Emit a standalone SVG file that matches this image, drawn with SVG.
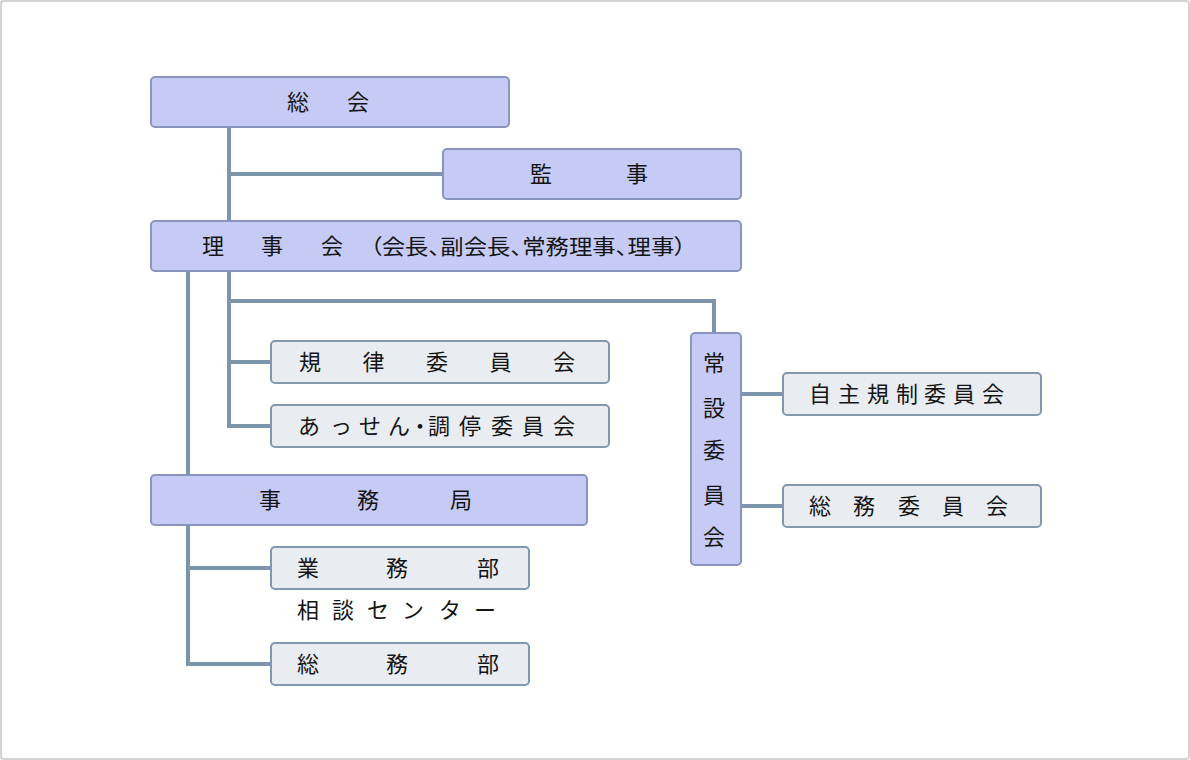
<svg xmlns="http://www.w3.org/2000/svg" width="1190" height="760" viewBox="0 0 1190 760">
<style>
.bg{fill:#ffffff;stroke:#d3d3d3;stroke-width:2}
.main{fill:#c5cbf5;stroke:#8a95bf;stroke-width:2}
.sub{fill:#e9edf2;stroke:#8298ad;stroke-width:2}
.t{font-family:"Noto Sans CJK JP","Noto Sans",sans-serif;font-size:22px;fill:#151515}
.p{font-feature-settings:"palt";font-size:21px}
.c{fill:none;stroke:#7b95aa;stroke-width:4}
</style>
<rect class="bg" x="1" y="1" width="1188" height="758" rx="3"/>
<g id="connectors">
<polyline class="c" points="229,127 229,221"/>
<polyline class="c" points="229,174 443,174"/>
<polyline class="c" points="229,271 229,426 271,426"/>
<polyline class="c" points="229,362 271,362"/>
<polyline class="c" points="229,301 714,301 714,333"/>
<polyline class="c" points="188,271 188,475"/>
<polyline class="c" points="188,525 188,664 271,664"/>
<polyline class="c" points="188,568 271,568"/>
<polyline class="c" points="741,394 783,394"/>
<polyline class="c" points="741,506 783,506"/>
</g>
<g id="soukai">
<rect class="main" x="151" y="77" width="358" height="50" rx="4"/>
<text class="t" text-anchor="middle" x="298 358" y="110">総会</text>
</g>
<g id="kanji">
<rect class="main" x="443" y="149" width="298" height="50" rx="4"/>
<text class="t" text-anchor="middle" x="541 637" y="182">監事</text>
</g>
<g id="rijikai">
<rect class="main" x="151" y="221" width="590" height="50" rx="4"/>
<text class="t" text-anchor="middle" x="213 272 332" y="254">理事会</text>
<text class="t p" x="370" y="254" textLength="316" lengthAdjust="spacingAndGlyphs">（会長、副会長、常務理事、理事）</text>
</g>
<g id="kiritsu">
<rect class="sub" x="271" y="341" width="338" height="42" rx="4"/>
<text class="t" text-anchor="middle" x="310 373.5 437 500.5 564" y="370">規律委員会</text>
</g>
<g id="assen">
<rect class="sub" x="271" y="405" width="338" height="42" rx="4"/>
<text class="t" text-anchor="middle" x="309 341 370 399 420 439 470 502 533 564" y="434">あっせん・調停委員会</text>
</g>
<g id="jimukyoku">
<rect class="main" x="151" y="475" width="436" height="50" rx="4"/>
<text class="t" text-anchor="middle" x="270 368 461" y="508">事務局</text>
</g>
<g id="gyoumubu">
<rect class="sub" x="271" y="547" width="258" height="42" rx="4"/>
<text class="t" text-anchor="middle" x="308 397 488" y="576">業務部</text>
</g>
<g id="soudan">
<text class="t" text-anchor="middle" x="308 343 378 413 450 485" y="618">相談センター</text>
</g>
<g id="soumubu">
<rect class="sub" x="271" y="643" width="258" height="42" rx="4"/>
<text class="t" text-anchor="middle" x="308 397 488" y="672">総務部</text>
</g>
<g id="jousetsu">
<rect class="main" x="691" y="333" width="50" height="232" rx="4"/>
<text class="t" text-anchor="middle" x="714" y="371">常</text>
<text class="t" text-anchor="middle" x="714" y="416">設</text>
<text class="t" text-anchor="middle" x="714" y="458">委</text>
<text class="t" text-anchor="middle" x="714" y="503">員</text>
<text class="t" text-anchor="middle" x="714" y="545">会</text>
</g>
<g id="jishukisei">
<rect class="sub" x="783" y="373" width="258" height="42" rx="4"/>
<text class="t" text-anchor="middle" x="820 849 878 907 935 964 993" y="402">自主規制委員会</text>
</g>
<g id="soumuiinkai">
<rect class="sub" x="783" y="485" width="258" height="42" rx="4"/>
<text class="t" text-anchor="middle" x="820 864 909 953 997" y="514">総務委員会</text>
</g>
</svg>
